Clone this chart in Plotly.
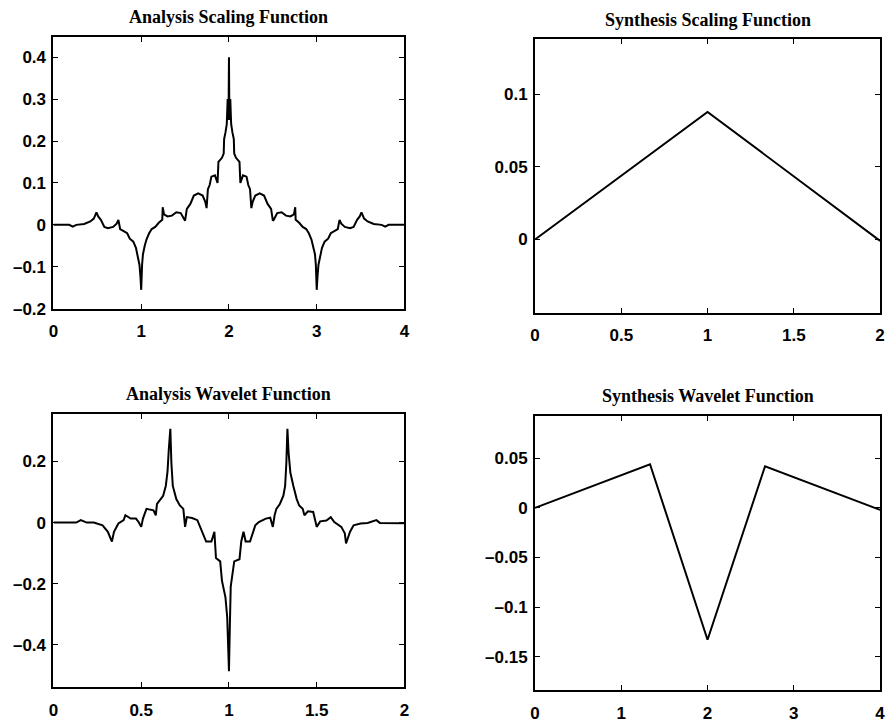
import plotly.graph_objects as go

W, H = 893, 728

# ---------------- data ----------------
# Analysis scaling function
asf_x = [0.00, 0.18, 0.22, 0.26, 0.35, 0.42, 0.46, 0.49, 0.51, 0.54, 0.58, 0.62, 0.68, 0.72, 0.74, 0.76,
         0.80, 0.84, 0.87, 0.91, 0.94, 0.96, 0.98, 0.99, 1.00, 1.01, 1.02, 1.04, 1.06, 1.09, 1.12, 1.16,
         1.20, 1.24, 1.245, 1.26, 1.30, 1.35, 1.40, 1.45, 1.49, 1.50, 1.52, 1.56, 1.60, 1.65, 1.70, 1.73,
         1.745, 1.76, 1.78, 1.80, 1.84, 1.87, 1.88, 1.92, 1.94, 1.945, 1.96, 1.975, 1.985, 1.995, 2.00,
         2.005, 2.015, 2.025, 2.04, 2.055, 2.06, 2.08, 2.12, 2.13, 2.16, 2.20, 2.22, 2.24, 2.255, 2.27,
         2.30, 2.35, 2.40, 2.44, 2.48, 2.50, 2.51, 2.55, 2.60, 2.65, 2.70, 2.74, 2.755, 2.76, 2.80, 2.84,
         2.88, 2.91, 2.94, 2.96, 2.98, 2.99, 3.00, 3.01, 3.02, 3.04, 3.06, 3.09, 3.13, 3.16, 3.20, 3.24,
         3.26, 3.28, 3.32, 3.38, 3.42, 3.46, 3.49, 3.51, 3.54, 3.58, 3.65, 3.74, 3.78, 3.82, 4.00]
asf_y = [0.000, 0.000, -0.004, 0.000, 0.002, 0.008, 0.015, 0.030, 0.020, 0.012, -0.005, -0.008, -0.005, 0.003, 0.012, -0.010,
         -0.015, -0.020, -0.033, -0.040, -0.055, -0.075, -0.095, -0.120, -0.155, -0.095, -0.070, -0.050, -0.035, -0.020, -0.010, -0.005,
         0.005, 0.012, 0.042, 0.025, 0.020, 0.022, 0.030, 0.028, 0.012, 0.010, 0.038, 0.050, 0.070, 0.075, 0.070, 0.055,
         0.040, 0.085, 0.095, 0.115, 0.118, 0.100, 0.150, 0.160, 0.170, 0.205, 0.220, 0.240, 0.300, 0.250, 0.400,
         0.250, 0.300, 0.240, 0.220, 0.205, 0.170, 0.160, 0.150, 0.100, 0.118, 0.115, 0.095, 0.085, 0.040, 0.055,
         0.070, 0.075, 0.070, 0.050, 0.038, 0.010, 0.012, 0.028, 0.030, 0.022, 0.020, 0.025, 0.042, 0.012, 0.005, -0.005,
         -0.010, -0.020, -0.035, -0.050, -0.070, -0.095, -0.155, -0.120, -0.095, -0.075, -0.055, -0.040, -0.033, -0.020, -0.015, -0.010,
         0.012, 0.003, -0.005, -0.008, -0.005, 0.012, 0.020, 0.030, 0.015, 0.008, 0.002, 0.000, -0.004, 0.000, 0.000]

# Synthesis scaling function
ssf_x = [0, 1, 2]
ssf_y = [0.0, 0.0880, -0.0010]

# Analysis wavelet function
awf_x = [0.00, 0.13, 0.156, 0.19, 0.23, 0.28, 0.31, 0.333, 0.345, 0.37, 0.40, 0.41, 0.44, 0.47, 0.485, 0.50,
         0.51, 0.53, 0.57, 0.583, 0.59, 0.61, 0.625, 0.64, 0.65, 0.657, 0.666, 0.672, 0.68, 0.70, 0.72, 0.74,
         0.75, 0.76, 0.79, 0.82, 0.85, 0.87, 0.90, 0.917, 0.926, 0.95, 0.96, 0.98, 0.99, 1.00, 1.005, 1.01,
         1.03, 1.06, 1.07, 1.083, 1.095, 1.12, 1.15, 1.17, 1.21, 1.235, 1.25, 1.26, 1.27, 1.29, 1.31, 1.32,
         1.327, 1.333, 1.34, 1.35, 1.367, 1.386, 1.40, 1.42, 1.43, 1.45, 1.48, 1.50, 1.52, 1.555, 1.58, 1.60,
         1.64, 1.66, 1.667, 1.69, 1.71, 1.75, 1.79, 1.84, 1.86, 2.00]
awf_y = [0.000, 0.000, 0.008, 0.000, 0.000, -0.009, -0.030, -0.062, -0.030, -0.003, 0.008, 0.024, 0.013, 0.013, 0.002, -0.014,
         0.013, 0.045, 0.040, 0.024, 0.061, 0.077, 0.088, 0.120, 0.168, 0.238, 0.307, 0.195, 0.120, 0.077, 0.056, 0.045,
         -0.014, 0.018, 0.015, 0.008, -0.035, -0.062, -0.062, -0.030, -0.116, -0.127, -0.190, -0.245, -0.310, -0.487, -0.340, -0.210,
         -0.127, -0.120, -0.062, -0.030, -0.062, -0.062, -0.009, 0.002, 0.013, 0.016, -0.014, 0.024, 0.045, 0.061, 0.088, 0.120,
         0.195, 0.307, 0.227, 0.163, 0.120, 0.077, 0.056, 0.045, 0.024, 0.037, 0.035, -0.014, 0.004, 0.007, 0.018, 0.002,
         -0.014, -0.035, -0.068, -0.030, -0.009, -0.003, -0.001, 0.008, -0.001, -0.002]

# Synthesis wavelet function
swf_x = [0, 4/3, 2, 8/3, 4]
swf_y = [0.0, 0.044, -0.133, 0.042, -0.002]

titles = ["Analysis Scaling Function", "Synthesis Scaling Function",
          "Analysis Wavelet Function", "Synthesis Wavelet Function"]

M = "\u2013"
tl_xticks = [0, 1, 2, 3, 4]
tl_xtext = ["0", "1", "2", "3", "4"]
tl_yticks = [-0.2, -0.1, 0, 0.1, 0.2, 0.3, 0.4]
tl_ytext = [M + "0.2", M + "0.1", "0", "0.1", "0.2", "0.3", "0.4"]

tr_xticks = [0, 0.5, 1, 1.5, 2]
tr_xtext = ["0", "0.5", "1", "1.5", "2"]
tr_yticks = [0, 0.05, 0.1]
tr_ytext = ["0", "0.05", "0.1"]

bl_xticks = [0, 0.5, 1, 1.5, 2]
bl_xtext = ["0", "0.5", "1", "1.5", "2"]
bl_yticks = [-0.4, -0.2, 0, 0.2]
bl_ytext = [M + "0.4", M + "0.2", "0", "0.2"]

br_xticks = [0, 1, 2, 3, 4]
br_xtext = ["0", "1", "2", "3", "4"]
br_yticks = [-0.15, -0.1, -0.05, 0, 0.05]
br_ytext = [M + "0.15", M + "0.1", M + "0.05", "0", "0.05"]

# ---------------- figure ----------------
def px_dom_x(a, b):
    return [a / W, b / W]

def px_dom_y(top, bottom):
    return [(H - bottom) / H, (H - top) / H]

fig = go.Figure()
line = dict(color="black", width=2)
fig.add_trace(go.Scatter(x=asf_x, y=asf_y, mode="lines", line=line, xaxis="x", yaxis="y"))
fig.add_trace(go.Scatter(x=ssf_x, y=ssf_y, mode="lines", line=line, xaxis="x2", yaxis="y2"))
fig.add_trace(go.Scatter(x=awf_x, y=awf_y, mode="lines", line=line, xaxis="x3", yaxis="y3"))
fig.add_trace(go.Scatter(x=swf_x, y=swf_y, mode="lines", line=line, xaxis="x4", yaxis="y4"))

tickfont = dict(family="Liberation Sans", size=17, color="black", weight="bold")

def xax(dom, anchor, rng, tv, tt):
    return dict(domain=dom, anchor=anchor, range=rng, tickvals=tv, ticktext=tt,
                showline=True, linecolor="black", linewidth=2, mirror="ticks",
                ticks="inside", ticklen=5, tickwidth=1, tickcolor="black",
                showgrid=False, zeroline=False, tickfont=tickfont, ticklabelstandoff=6)

def yax(dom, anchor, rng, tv, tt):
    return dict(domain=dom, anchor=anchor, range=rng, tickvals=tv, ticktext=tt,
                showline=True, linecolor="black", linewidth=2, mirror="ticks",
                ticks="inside", ticklen=5, tickwidth=1, tickcolor="black",
                showgrid=False, zeroline=False, tickfont=tickfont, ticklabelstandoff=2)

R = 885  # right edge of right-hand plots
fig.update_layout(
    width=W, height=H,
    margin=dict(l=0, r=0, t=0, b=0),
    paper_bgcolor="white", plot_bgcolor="white",
    showlegend=False,
    xaxis=xax(px_dom_x(49, 404), "y", [0, 4], tl_xticks, tl_xtext),
    yaxis=yax(px_dom_y(38, 313), "x", [-0.2, 0.447], tl_yticks, tl_ytext),
    xaxis2=xax(px_dom_x(536, R), "y2", [0, 2], tr_xticks, tr_xtext),
    yaxis2=yax(px_dom_y(40, 317), "x2", [-0.0505, 0.138], tr_yticks, tr_ytext),
    xaxis3=xax(px_dom_x(49, 404), "y3", [0, 2], bl_xticks, bl_xtext),
    yaxis3=yax(px_dom_y(420, 697), "x3", [-0.54, 0.355], bl_yticks, bl_ytext),
    xaxis4=xax(px_dom_x(536, R), "y4", [0, 4], br_xticks, br_xtext),
    yaxis4=yax(px_dom_y(422, 700), "x4", [-0.184, 0.0924], br_yticks, br_ytext),
)

title_pos = [(226.5, 17), (711, 20), (226.5, 399), (711, 402)]
for t, (cx, cy) in zip(titles, title_pos):
    fig.add_annotation(text="<b>" + t + "</b>", x=cx / W, y=(H - cy) / H, xref="paper", yref="paper",
                       xanchor="center", yanchor="middle", showarrow=False,
                       font=dict(family="Liberation Serif", size=18, color="black"))

fig.write_html("out.html", config={"displayModeBar": False},
               post_script="document.body.style.margin='0';document.body.style.overflow='hidden';")
